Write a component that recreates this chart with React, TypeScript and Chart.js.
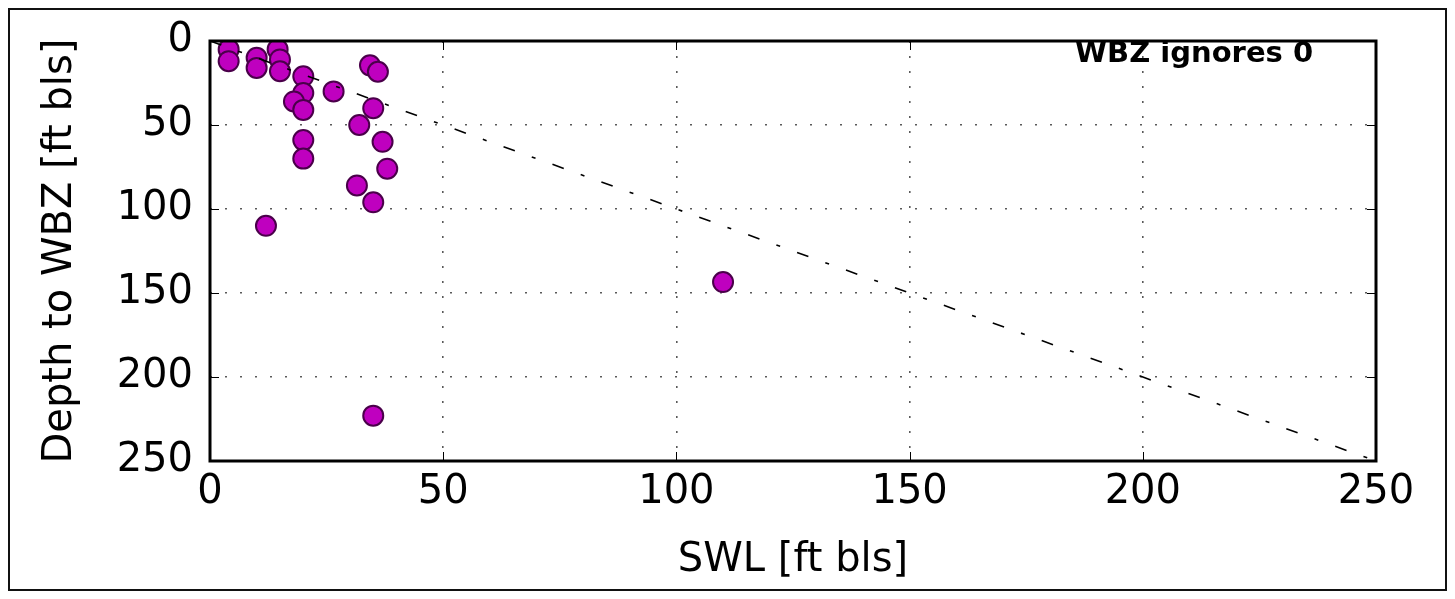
import React, { useEffect, useRef } from "react";
import { Chart, registerables } from "chart.js";

Chart.register(...registerables);

// SWL [ft bls] (x) and Depth to WBZ [ft bls] (y) for each well
const swl = [4, 4, 10, 10, 14.5, 15, 15, 20, 20, 18, 20, 26.5, 34.3, 36, 35, 32, 37, 20, 20, 38, 31.5, 35, 12, 35, 110];
const wbz = [5, 12, 10, 16, 5, 11, 18, 21, 31, 36, 41, 30, 14.5, 18.3, 40, 50, 60, 59, 70, 76, 86, 96, 110, 223, 143.5];

// 1:1 reference line
const refLineX = [0, 250];
const refLineY = [0, 250];

const xTickValues = [0, 50, 100, 150, 200, 250];
const yTickValues = [0, 50, 100, 150, 200, 250];

const xTitle = "SWL [ft bls]";
const yTitle = "Depth to WBZ [ft bls]";
const noteText = "WBZ ignores 0";

const FONT = '"DejaVu Sans", sans-serif';

const framePlugin = {
  id: "frameAndTicks",
  afterDraw(chart: any) {
    const { ctx, chartArea: a, scales } = chart;
    const tl = 9;
    ctx.save();
    ctx.strokeStyle = "#000";
    ctx.lineWidth = 1;
    ctx.beginPath();
    scales.x.ticks.forEach((t: any) => {
      const px = Math.round(scales.x.getPixelForValue(t.value)) + 0.5;
      ctx.moveTo(px, a.bottom);
      ctx.lineTo(px, a.bottom - tl);
      ctx.moveTo(px, a.top);
      ctx.lineTo(px, a.top + tl);
    });
    scales.y.ticks.forEach((t: any) => {
      const py = Math.round(scales.y.getPixelForValue(t.value)) + 0.5;
      ctx.moveTo(a.left, py);
      ctx.lineTo(a.left + tl, py);
      ctx.moveTo(a.right, py);
      ctx.lineTo(a.right - tl, py);
    });
    ctx.stroke();
    ctx.lineWidth = 3;
    ctx.strokeRect(a.left, a.top, a.right - a.left, a.bottom - a.top);
    ctx.fillStyle = "#000";
    ctx.font = `bold 29px ${FONT}`;
    ctx.textAlign = "center";
    ctx.textBaseline = "alphabetic";
    ctx.fillText(noteText, a.left + 0.844 * (a.right - a.left), a.top + 21);
    ctx.restore();
  },
};

export default function App() {
  const canvasRef = useRef<HTMLCanvasElement | null>(null);

  useEffect(() => {
    if (!canvasRef.current) return;
    const points = swl.map((x, i) => ({ x, y: wbz[i] }));
    const line = refLineX.map((x, i) => ({ x, y: refLineY[i] }));
    const gridCommon = {
      color: "#5a5a5a",
      lineWidth: 1.6,
      drawTicks: false,
    };
    const chart = new Chart(canvasRef.current, {
      type: "scatter",
      data: {
        datasets: [
          {
            label: "1:1",
            data: line,
            showLine: true,
            pointRadius: 0,
            borderColor: "#000",
            borderWidth: 1.6,
            borderDash: [12, 18, 4, 18],
            order: 1,
          } as any,
          {
            label: "wells",
            data: points,
            pointRadius: 10,
            pointHoverRadius: 10,
            backgroundColor: "#bf00bf",
            borderColor: "#4a004a",
            borderWidth: 2,
            order: 2,
          },
        ],
      },
      options: {
        animation: false,
        responsive: true,
        maintainAspectRatio: false,
        events: [],
        layout: { padding: { left: 0, right: 69, top: 31, bottom: 0 } },
        plugins: {
          legend: { display: false },
          tooltip: { enabled: false },
          title: { display: false },
        },
        scales: {
          x: {
            type: "linear",
            position: "bottom",
            min: 0,
            max: 250,
            z: 1,
            afterBuildTicks: (s: any) => {
              s.ticks = xTickValues.map((v) => ({ value: v }));
            },
            afterFit: (s: any) => {
              s.height = 128;
              s.paddingLeft = 0;
              s.paddingRight = 0;
            },
            grid: gridCommon,
            border: { display: false, dash: [2, 13] },
            ticks: {
              color: "#000",
              padding: 8,
              maxRotation: 0,
              autoSkip: false,
              font: { family: FONT, size: 40 },
            },
            title: {
              display: true,
              text: xTitle,
              color: "#000",
              font: { family: FONT, size: 40 },
              padding: { top: 0, bottom: 4.5 },
            },
          },
          y: {
            type: "linear",
            position: "left",
            reverse: true,
            min: 0,
            max: 250,
            z: 1,
            afterBuildTicks: (s: any) => {
              s.ticks = yTickValues.map((v) => ({ value: v }));
            },
            afterFit: (s: any) => {
              s.width = 200;
              s.paddingTop = 0;
              s.paddingBottom = 0;
            },
            grid: gridCommon,
            border: { display: false, dash: [2, 13] },
            ticks: {
              color: "#000",
              padding: 17,
              autoSkip: false,
              font: { family: FONT, size: 40 },
            },
            title: {
              display: true,
              text: yTitle,
              color: "#000",
              font: { family: FONT, size: 40 },
              padding: { top: 27, bottom: 0 },
            },
          },
        },
      },
      plugins: [framePlugin],
    });
    return () => chart.destroy();
  }, []);

  return (
    <div
      style={{
        width: 1439,
        height: 583,
        boxSizing: "border-box",
        border: "2px solid #111",
        background: "#fff",
      }}
    >
      <div style={{ position: "relative", width: 1435, height: 579 }}>
        <canvas ref={canvasRef} />
      </div>
    </div>
  );
}
